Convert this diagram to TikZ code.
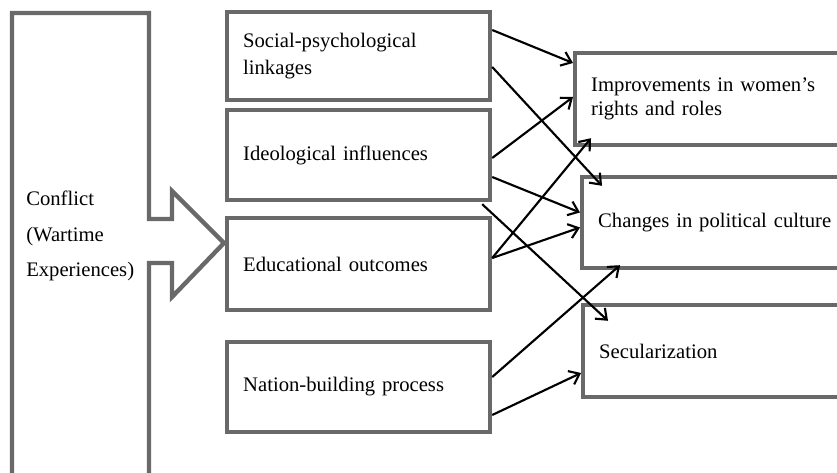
\documentclass[tikz,border=0pt]{standalone}
\usepackage{fontspec}
\setmainfont{Liberation Serif}
\usetikzlibrary{arrows.meta,calc}
\definecolor{boxgray}{RGB}{105,105,105}
\tikzset{
  frame/.style={draw=boxgray, line width=3.3pt},
  midbox/.style={frame, rectangle, minimum width=197.25pt, text width=173pt,
    inner xsep=12pt, align=left, font=\fontsize{15.5}{20.25}\selectfont},
  outbox/.style={frame, rectangle, anchor=west, minimum width=225pt, text width=201pt,
    inner xsep=12pt, align=left, font=\fontsize{15.5}{18}\selectfont},
  link/.style={-{Straight Barb[length=7pt,width=11pt]}, line width=1.6pt, black}
}
\begin{document}
\begin{tikzpicture}[x=0.75pt, y=-0.75pt]
            \clip (0,0) rectangle (837,473);
            % conflict block with its arrow
            \draw[frame, line join=miter] (12,480) -- (12,13) -- (149,13) -- (149,219) -- (172,219) -- (172,191)
                -- (224,243) -- (172,297) -- (172,263) -- (149,263) -- (149,480);
            \node[anchor=west, align=left, inner sep=0pt, font=\fontsize{15.5}{26.5}\selectfont] (conf) at (26,236)
                {Conflict\\(Wartime\\Experiences)};
            % middle boxes
            \node[midbox, minimum height=66pt] (soc) at (358.5,56) {Social-psychological\\linkages};
            \node[midbox, minimum height=67.5pt] (ideo) at (358.5,155) {Ideological influences};
            \node[midbox, minimum height=69pt] (edu) at (358.5,264) {Educational outcomes};
            \node[midbox, minimum height=67.5pt] (nat) at (358.5,387) {Nation-building process};
            % outcome boxes
            \node[outbox, minimum height=69pt] (impr) at (573,99) {Improvements in women’s\\rights and roles};
            \node[outbox, minimum height=68.25pt] (pol) at (580,222.5) {Changes in political culture};
            \node[outbox, minimum height=69pt] (sec) at (581,351) {Secularization};
            % links
            \draw[link] ($(soc.east)+(0,-26)$) -- ($(impr.west)+(0,-36)$);
            \draw[link] ($(soc.east)+(0,11)$) -- ($(pol.north west)+(22,11)$);
            \draw[link] ($(ideo.east)+(0,3)$) -- ($(impr.west)+(0,-2)$);
            \draw[link] ($(ideo.east)+(0,22)$) -- ($(pol.west)+(0,-10)$);
            \draw[link] ($(ideo.south east)+(-10,2)$) -- ($(sec.north west)+(27,18)$);
            \draw[link] ($(edu.east)+(0,-6)$) -- ($(impr.south west)+(18,-9)$);
            \draw[link] ($(edu.east)+(0,-6)$) -- ($(pol.west)+(0,5)$);
            \draw[link] ($(nat.east)+(0,-10)$) -- ($(pol.south west)+(40,-5)$);
            \draw[link] ($(nat.east)+(0,28)$) -- ($(sec.west)+(0,22)$);
        \end{tikzpicture}
\end{document}
